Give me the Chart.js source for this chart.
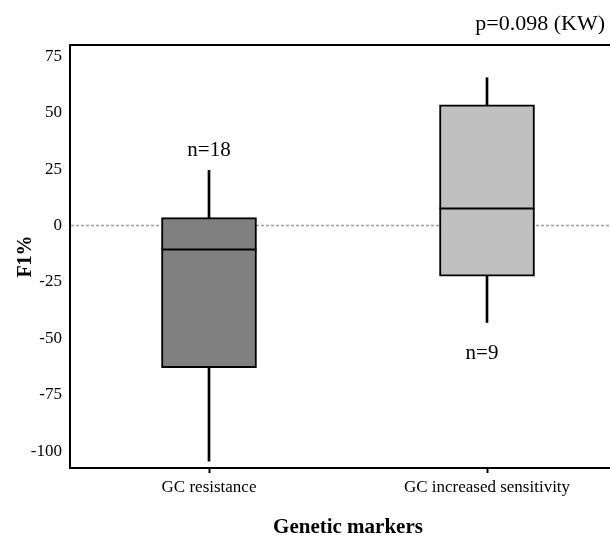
<!DOCTYPE html>
<html lang="en">
<head>
    <meta charset="UTF-8">
    <title>F1% by genetic markers</title>
    <script src="https://cdn.jsdelivr.net/npm/chart.js"></script>
    <style>
        html, body { margin: 0; padding: 0; overflow: hidden; background: #fff; }
    </style>
</head>
<body>
    <canvas id="boxChart" width="626" height="535"></canvas>
    <script>
        var categories = ['GC resistance', 'GC increased sensitivity'];
        var whiskerLow = [-104.5, -43];
        var q1 = [-63, -22.5];
        var median = [-10.7, 7.5];
        var q3 = [3.5, 53.5];
        var whiskerHigh = [24.5, 65.5];
        var countLabels = ['n=18', 'n=9'];
        var yTicks = [75, 50, 25, 0, -25, -50, -75, -100];
        var boxColors = ['#808080', '#c0c0c0'];
        var pLabel = 'p=0.098 (KW)';

        var serif = "'Liberation Serif', 'Times New Roman', serif";

        var boxData = categories.map(function (c, i) { return [q1[i], q3[i]]; });
        var whiskerData = categories.map(function (c, i) { return [whiskerLow[i], whiskerHigh[i]]; });

        var extras = {
            id: 'extras',
            beforeDatasetsDraw: function (chart) {
                var ctx = chart.ctx, area = chart.chartArea, y = chart.scales.y;
                var y0 = y.getPixelForValue(0);
                ctx.save();
                ctx.strokeStyle = '#a0a0a0';
                ctx.lineWidth = 1.5;
                ctx.setLineDash([3, 2]);
                ctx.beginPath();
                ctx.moveTo(area.left + 1, y0);
                ctx.lineTo(area.right, y0);
                ctx.stroke();
                ctx.restore();
            },
            afterDatasetsDraw: function (chart) {
                var ctx = chart.ctx, area = chart.chartArea, y = chart.scales.y;
                var boxes = chart.getDatasetMeta(0).data;
                ctx.save();
                // median lines
                ctx.strokeStyle = '#000';
                ctx.lineWidth = 2;
                boxes.forEach(function (bar, i) {
                    var py = y.getPixelForValue(median[i]);
                    ctx.beginPath();
                    ctx.moveTo(bar.x - bar.width / 2, py);
                    ctx.lineTo(bar.x + bar.width / 2, py);
                    ctx.stroke();
                });
                // top frame line
                ctx.beginPath();
                ctx.moveTo(area.left - 1, area.top);
                ctx.lineTo(area.right, area.top);
                ctx.stroke();
                // n labels
                ctx.fillStyle = '#000';
                ctx.font = '21px ' + serif;
                ctx.textAlign = 'center';
                ctx.textBaseline = 'alphabetic';
                ctx.fillText(countLabels[0], boxes[0].x, y.getPixelForValue(whiskerHigh[0]) - 14);
                ctx.fillText(countLabels[1], boxes[1].x - 5, y.getPixelForValue(whiskerLow[1]) + 37);
                // p value
                ctx.font = '22px ' + serif;
                ctx.textAlign = 'right';
                ctx.fillText(pLabel, 605, 30);
                ctx.restore();
            }
        };

        var ctx = document.getElementById('boxChart').getContext('2d');
        var boxChart = new Chart(ctx, {
            type: 'bar',
            data: {
                labels: categories,
                datasets: [{
                    label: 'IQR',
                    data: boxData,
                    backgroundColor: boxColors,
                    borderColor: '#000',
                    borderWidth: 2,
                    borderSkipped: false,
                    barThickness: 95,
                    grouped: false,
                    order: 1
                }, {
                    label: 'Whiskers',
                    data: whiskerData,
                    backgroundColor: '#000',
                    borderWidth: 0,
                    barThickness: 2,
                    grouped: false,
                    order: 2
                }]
            },
            options: {
                responsive: false,
                animation: false,
                layout: { padding: { top: 45, left: 0, right: 0, bottom: 0 } },
                plugins: {
                    legend: { display: false },
                    tooltip: { enabled: false }
                },
                scales: {
                    x: {
                        offset: true,
                        grid: { display: true, drawOnChartArea: false, offset: false, tickLength: 5, tickColor: '#000', tickWidth: 2 },
                        border: { display: true, color: '#000', width: 2 },
                        ticks: { color: '#000', font: { family: serif, size: 17 }, padding: 4, maxRotation: 0 },
                        title: {
                            display: true,
                            text: 'Genetic markers',
                            color: '#000',
                            font: { family: serif, size: 21, weight: 'bold', lineHeight: 1 },
                            padding: { top: 0, bottom: -3 }
                        },
                        afterFit: function (scale) { scale.height = 67; }
                    },
                    y: {
                        min: -107.5,
                        max: 80,
                        afterBuildTicks: function (scale) {
                            scale.ticks = yTicks.map(function (v) { return { value: v }; });
                        },
                        grid: { display: true, drawOnChartArea: false, drawTicks: false },
                        border: { display: true, color: '#000', width: 2 },
                        ticks: { color: '#000', font: { family: serif, size: 17 }, padding: 8 },
                        title: {
                            display: true,
                            text: 'F1%',
                            color: '#000',
                            font: { family: serif, size: 20, weight: 'bold', lineHeight: 1 },
                            padding: { top: 16, bottom: 0 }
                        },
                        afterFit: function (scale) { scale.width = 70; }
                    }
                }
            },
            plugins: [extras]
        });
    </script>
</body>
</html>
